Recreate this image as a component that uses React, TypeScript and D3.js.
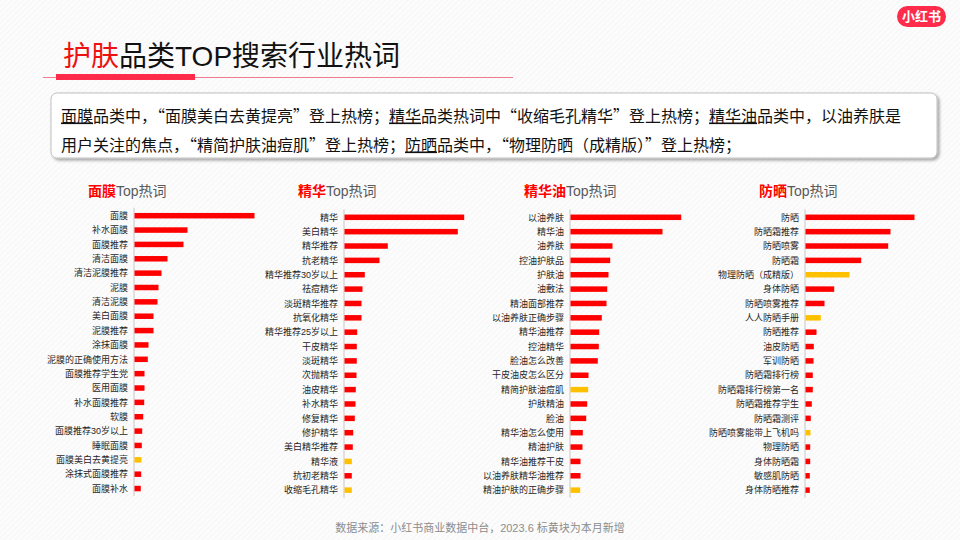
import React from 'react';
import * as d3 from 'd3';

// ---------- data ----------
const maskLabels = ['面膜','补水面膜','面膜推荐','清洁面膜','清洁泥膜推荐','泥膜','清洁泥膜','美白面膜','泥膜推荐','涂抹面膜','泥膜的正确使用方法','面膜推荐学生党','医用面膜','补水面膜推荐','软膜','面膜推荐30岁以上','睡眠面膜','面膜美白去黄提亮','涂抹式面膜推荐','面膜补水'];
const maskValues = [120,53,49,33,27,24,23,19,19,14,13.3,10,10,9.7,8.7,7.7,7.3,7,6.7,6.3];
const maskNew = ['面膜美白去黄提亮'];

const serumLabels = ['精华','美白精华','精华推荐','抗老精华','精华推荐30岁以上','祛痘精华','淡斑精华推荐','抗氧化精华','精华推荐25岁以上','干皮精华','淡斑精华','次抛精华','油皮精华','补水精华','修复精华','修护精华','美白精华推荐','精华液','抗初老精华','收缩毛孔精华'];
const serumValues = [119.7,113.3,43.3,35,20.3,18,17,17,12.7,12.3,12.3,12,11.3,11,10.3,8.7,8.3,7.3,7.3,7.3];
const serumNew = ['精华液','收缩毛孔精华'];

const oilLabels = ['以油养肤','精华油','油养肤','控油护肤品','护肤油','油敷法','精油面部推荐','以油养肤正确步骤','精华油推荐','控油精华','脸油怎么改善','干皮油皮怎么区分','精简护肤油痘肌','护肤精油','脸油','精华油怎么使用','精油护肤','精华油推荐干皮','以油养肤精华油推荐','精油护肤的正确步骤'];
const oilValues = [110.7,92,42,39.7,38,36.7,36,31.3,28.7,28.3,27.3,18,17.7,16.7,15.7,12.3,12,10,10,9.7];
const oilNew = ['精简护肤油痘肌','精油护肤的正确步骤'];

const sunLabels = ['防晒','防晒霜推荐','防晒喷雾','防晒霜','物理防晒（成精版）','身体防晒','防晒喷雾推荐','人人防晒手册','防晒推荐','油皮防晒','军训防晒','防晒霜排行榜','防晒霜排行榜第一名','防晒霜推荐学生','防晒霜测评','防晒喷雾能带上飞机吗','物理防晒','身体防晒霜','敏感肌防晒','身体防晒推荐'];
const sunValues = [109,85,82.7,55.7,44,28.7,19,15.3,11,8.3,8,7.3,7.3,6.3,5.3,5,4.7,4.7,4.3,4.3];
const sunNew = ['物理防晒（成精版）','人人防晒手册','防晒喷雾能带上飞机吗'];

const panelNames = ['面膜','精华','精华油','防晒'];

const FONT = '"Liberation Sans", Arial, "Noto Sans CJK SC", sans-serif';
const CJK = '"Noto Sans CJK SC", "Liberation Sans", sans-serif';
const RED = '#ff0000';
const YELLOW = '#ffc000';

const panels = [
  { name: panelNames[0], labels: maskLabels, values: maskValues, isNew: maskNew, ax: 134, y0: 215.7 },
  { name: panelNames[1], labels: serumLabels, values: serumValues, isNew: serumNew, ax: 344, y0: 217.3 },
  { name: panelNames[2], labels: oilLabels, values: oilValues, isNew: oilNew, ax: 570, y0: 217.3 },
  { name: panelNames[3], labels: sunLabels, values: sunValues, isNew: sunNew, ax: 805, y0: 217.3 },
];

function Panel({ p }: { p: any }) {
  const step = 14.36;
  const y = d3.scalePoint<string>().domain(p.labels).range([p.y0, p.y0 + step * (p.labels.length - 1)]);
  const x = d3.scaleLinear().domain([0, 120]).range([0, 120]);
  const barH = 5.5;
  return (
    <g>
      <text x={p.ax - 46} y={196} fontSize={14} fontFamily={FONT}>
        <tspan fill={RED} fontWeight={700} fontFamily={FONT}>{p.name}</tspan>
        <tspan fill="#595959" fontFamily={FONT}>Top热词</tspan>
      </text>
      <line x1={p.ax} x2={p.ax} y1={p.y0 - 8} y2={p.y0 + step * 19 + 7.5} stroke="#d9d9d9" strokeWidth={1.5} />
      {p.labels.map((l: string, i: number) => (
        <g key={l}>
          <rect x={p.ax + 0.5} y={(y(l) as number) - barH / 2} width={x(p.values[i])} height={barH}
            fill={p.isNew.includes(l) ? YELLOW : RED} />
          <text x={p.ax - 6} y={(y(l) as number) + 3.2} textAnchor="end" fontSize={9} fill="#262626" fontFamily={FONT}>{l}</text>
        </g>
      ))}
    </g>
  );
}

export default function App() {
  const u = { textDecoration: 'underline' } as React.CSSProperties;
  return (
    <div style={{ position: 'absolute', left: 0, top: 0 }}>
      <svg width={960} height={540} style={{ display: 'block' }}>
        <defs>
          <pattern id="bgp" width={4} height={4} patternUnits="userSpaceOnUse" patternTransform="rotate(45)">
            <rect width={4} height={4} fill="#fcfcfc" />
            <line x1={0} y1={0} x2={0} y2={4} stroke="#f1f1f1" strokeWidth={1} />
          </pattern>
          <filter id="shadow" x="-5%" y="-20%" width="110%" height="150%">
            <feDropShadow dx={2} dy={2} stdDeviation={1.5} floodColor="#000" floodOpacity={0.35} />
          </filter>
        </defs>
        <rect width={960} height={540} fill="url(#bgp)" />

        {/* logo */}
        <rect x={897} y={6} width={49} height={21} rx={10.5} fill="#fe2c4a" />
        <text x={921.5} y={21} textAnchor="middle" fontSize={13} fontWeight={700} fill="#fff" fontFamily={FONT}>小红书</text>

        {/* title */}
        <text x={63} y={66} fontSize={28} fontFamily={FONT} fill="#111">
          <tspan fill="#ee1111">护肤</tspan>品类TOP搜索行业热词
        </text>
        <line x1={43} x2={513} y1={77.5} y2={77.5} stroke="#f07b8c" strokeWidth={1} />
        <rect x={56} y={74} width={139} height={6} fill="#fe2c4a" />

        {/* text box */}
        <rect x={51} y={93} width={886} height={65} rx={6} fill="#fff" stroke="#bfbfbf" strokeWidth={1} filter="url(#shadow)" />
        <text x={61} y={121.5} fontSize={16} fontFamily={CJK} fill="#111">
          <tspan style={u}>面膜</tspan>品类中，“面膜美白去黄提亮”登上热榜；<tspan style={u}>精华</tspan>品类热词中“收缩毛孔精华”登上热榜；<tspan style={u}>精华油</tspan>品类中，以油养肤是
        </text>
        <text x={61} y={150.5} fontSize={16} fontFamily={CJK} fill="#111">
          用户关注的焦点，“精简护肤油痘肌”登上热榜；<tspan style={u}>防晒</tspan>品类中，“物理防晒（成精版）”登上热榜；
        </text>

        {panels.map((p) => <Panel key={p.name} p={p} />)}

        <text x={480} y={532} textAnchor="middle" fontSize={11} fill="#8c8c8c" fontFamily={FONT}>
          数据来源：小红书商业数据中台，2023.6 标黄块为本月新增
        </text>
      </svg>
    </div>
  );
}
